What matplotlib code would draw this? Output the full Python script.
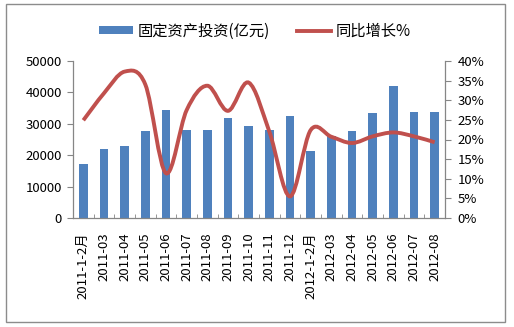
import matplotlib
matplotlib.use("Agg")
import matplotlib.pyplot as plt
import numpy as np
from matplotlib.path import Path
from matplotlib.patches import PathPatch, Rectangle
from matplotlib.lines import Line2D
from matplotlib.patches import Patch
from matplotlib.ticker import FuncFormatter, MultipleLocator

plt.rcParams['font.family'] = ['Noto Sans CJK SC', 'DejaVu Sans']

categories = ["2011-1-2月", "2011-03", "2011-04", "2011-05", "2011-06", "2011-07",
              "2011-08", "2011-09", "2011-10", "2011-11", "2011-12", "2012-1-2月",
              "2012-03", "2012-04", "2012-05", "2012-06", "2012-07", "2012-08"]
investment = [17300, 21900, 23000, 27600, 34500, 27900, 27900, 31800, 29200,
              27900, 32600, 21200, 26000, 27600, 33400, 41900, 33800, 33800]
growth = [24.9, 31.8, 37.3, 34.0, 11.4, 27.5, 33.7, 27.3, 34.5,
          22.0, 5.5, 22.4, 20.7, 19.1, 20.8, 21.8, 20.8, 19.3]

bar_color = "#4F81BD"
line_color = "#C0504D"
spine_color = "#868686"

fig = plt.figure(figsize=(5.14, 3.27), dpi=100)
ax = fig.add_axes([73/514, 1-218/327, (445-73)/514, (218-61)/327])
ax2 = ax.twinx()

x = np.arange(len(categories))
ax.bar(x, investment, width=0.42, color=bar_color, zorder=2)
ax.set_xlim(-0.5, len(categories)-0.5)
ax.set_ylim(0, 50000)
ax.yaxis.set_major_locator(MultipleLocator(10000))

# smoothed line (Catmull-Rom -> Bezier), like Excel smoothing
pts = np.column_stack([x, growth])
verts = [tuple(pts[0])]
codes = [Path.MOVETO]
n = len(pts)
for i in range(n-1):
    p0 = pts[i-1] if i > 0 else pts[i]
    p1 = pts[i]
    p2 = pts[i+1]
    p3 = pts[i+2] if i+2 < n else pts[i+1]
    c1 = p1 + (p2 - p0) / 6.0
    c2 = p2 - (p3 - p1) / 6.0
    verts += [tuple(c1), tuple(c2), tuple(p2)]
    codes += [Path.CURVE4]*3
path = Path(verts, codes)
ax2.add_patch(PathPatch(path, facecolor='none', edgecolor=line_color, lw=2.8,
                        capstyle='butt', zorder=3))
ax2.set_ylim(0, 40)
ax2.yaxis.set_major_locator(MultipleLocator(5))
ax2.yaxis.set_major_formatter(FuncFormatter(lambda v, p: f"{v:.0f}%"))

for a in (ax, ax2):
    a.spines['top'].set_visible(False)
    for s in ('left', 'right', 'bottom'):
        a.spines[s].set_color(spine_color)
        a.spines[s].set_linewidth(0.9)
ax2.spines['left'].set_visible(False)
ax2.spines['bottom'].set_visible(False)
ax.spines['right'].set_visible(False)

ax.set_xticks(x)
ax.set_xticklabels(categories, rotation=90, fontsize=9.5)
ax.tick_params(axis='x', which='major', length=0, pad=10.5)
ax.set_xticks(np.arange(-0.5, len(categories), 1), minor=True)
ax.tick_params(axis='x', which='minor', direction='in', length=3, color=spine_color)
ax.tick_params(axis='y', direction='out', length=4, color=spine_color, labelsize=9.5, pad=4)
ax2.tick_params(axis='y', direction='out', length=4, color=spine_color, labelsize=9.5, pad=5)

handles = [Patch(facecolor=bar_color, edgecolor='none'),
           Line2D([0], [0], color=line_color, lw=2.8)]
fig.legend(handles, ["固定资产投资(亿元)", "同比增长%"], loc='center',
           bbox_to_anchor=(255/514, 1-31/327), ncol=2, frameon=False,
           fontsize=11, handlelength=2.2, handleheight=0.5, columnspacing=1.8,
           handletextpad=0.3)

fig.add_artist(Rectangle((6/514, 1-322/327), (505-6)/514, (322-4)/327,
                         transform=fig.transFigure, fill=False,
                         edgecolor='#8c8c8c', lw=1))

fig.savefig("out.png", dpi=100)
